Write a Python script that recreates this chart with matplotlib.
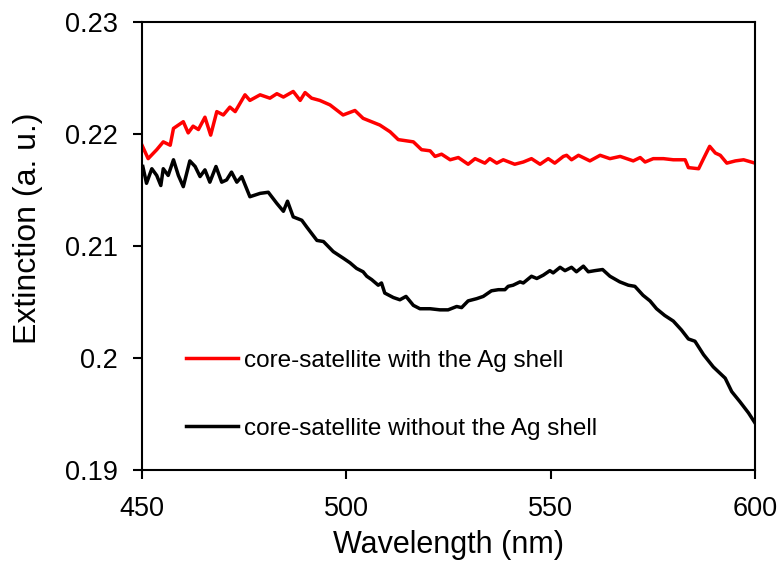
import matplotlib
matplotlib.use('Agg')
import matplotlib.pyplot as plt
from matplotlib.ticker import FuncFormatter

plt.rcParams['font.family'] = ['Liberation Sans', 'DejaVu Sans']

# extinction spectra
wl_red = [450.0, 451.5, 453.6, 455.2, 456.9, 457.7, 460.1, 461.3, 462.5, 463.8,
          465.4, 466.8, 468.3, 469.9, 471.5, 472.8, 475.2, 476.4, 478.9, 481.3,
          483.0, 484.6, 487.0, 488.7, 489.9, 491.5, 493.5, 496.0, 499.2, 502.1,
          504.1, 508.2, 510.7, 512.7, 516.4, 518.4, 520.5, 521.7, 523.3, 525.4,
          527.4, 529.8, 531.5, 533.9, 535.1, 536.8, 538.4, 541.2, 543.3, 545.3,
          547.4, 549.4, 551.0, 553.1, 553.9, 555.1, 556.8, 559.6, 562.1, 564.5,
          567.0, 570.2, 571.9, 573.1, 575.1, 577.6, 580.0, 582.9, 583.7, 586.2,
          587.4, 588.9, 590.3, 591.5, 593.1, 595.2, 597.2, 600.0]
ext_red = [0.2190, 0.2178, 0.2186, 0.2193, 0.2190, 0.2205, 0.2211, 0.2201, 0.2207, 0.2204,
           0.2215, 0.2199, 0.2220, 0.2217, 0.2224, 0.2220, 0.2235, 0.2230, 0.2235, 0.2232,
           0.2236, 0.2233, 0.2238, 0.2230, 0.2237, 0.2232, 0.2230, 0.2226, 0.2217, 0.2221,
           0.2214, 0.2208, 0.2202, 0.2195, 0.2193, 0.2186, 0.2185, 0.2180, 0.2182, 0.2177,
           0.2179, 0.2173, 0.2178, 0.2174, 0.2178, 0.2174, 0.2177, 0.2173, 0.2175, 0.2178,
           0.2173, 0.2178, 0.2174, 0.2180, 0.2181, 0.2177, 0.2181, 0.2176, 0.2181, 0.2178,
           0.2180, 0.2176, 0.2179, 0.2175, 0.2178, 0.2178, 0.2177, 0.2177, 0.2170, 0.2169,
           0.2178, 0.2189, 0.2183, 0.2181, 0.2174, 0.2176, 0.2177, 0.2174]

wl_black = [450.2, 451.1, 452.4, 453.6, 454.6, 455.2, 456.4, 457.7, 458.9, 460.1,
            461.7, 463.0, 464.2, 465.4, 466.6, 468.1, 469.5, 470.7, 471.9, 473.2,
            474.4, 476.4, 478.9, 480.9, 483.0, 484.6, 485.6, 487.0, 489.1, 490.3,
            492.8, 494.4, 496.8, 499.3, 500.9, 502.5, 504.1, 505.0, 506.2, 507.8,
            508.6, 509.4, 511.5, 513.1, 514.6, 516.4, 518.0, 520.5, 522.9, 524.9,
            527.0, 528.2, 529.8, 531.9, 533.5, 535.5, 537.2, 538.8, 539.6, 540.8,
            542.5, 543.3, 545.3, 546.6, 548.2, 549.8, 550.6, 552.3, 553.5, 555.1,
            556.3, 558.0, 559.2, 560.8, 562.7, 564.5, 566.9, 569.0, 570.6, 572.6,
            574.3, 575.9, 577.9, 580.0, 582.0, 583.7, 585.3, 587.4, 589.8, 592.7,
            594.3, 596.3, 598.4, 600.0]
ext_black = [0.2171, 0.2156, 0.2169, 0.2163, 0.2154, 0.2169, 0.2163, 0.2177, 0.2163, 0.2153,
             0.2176, 0.2171, 0.2162, 0.2168, 0.2157, 0.2171, 0.2157, 0.2159, 0.2166, 0.2157,
             0.2162, 0.2144, 0.2147, 0.2148, 0.2138, 0.2131, 0.2140, 0.2126, 0.2123, 0.2117,
             0.2105, 0.2104, 0.2095, 0.2089, 0.2085, 0.2080, 0.2077, 0.2073, 0.2070, 0.2065,
             0.2067, 0.2058, 0.2054, 0.2052, 0.2055, 0.2047, 0.2044, 0.2044, 0.2043, 0.2043,
             0.2046, 0.2045, 0.2051, 0.2053, 0.2055, 0.2060, 0.2061, 0.2061, 0.2064, 0.2065,
             0.2068, 0.2067, 0.2073, 0.2071, 0.2074, 0.2078, 0.2076, 0.2081, 0.2078, 0.2081,
             0.2077, 0.2082, 0.2077, 0.2078, 0.2079, 0.2073, 0.2068, 0.2065, 0.2064, 0.2056,
             0.2051, 0.2044, 0.2038, 0.2033, 0.2025, 0.2017, 0.2015, 0.2003, 0.1992, 0.1982,
             0.1970, 0.1961, 0.1951, 0.1942]

labels = ['core-satellite with the Ag shell', 'core-satellite without the Ag shell']
xticks = [450, 500, 550, 600]
yticks = [0.19, 0.20, 0.21, 0.22, 0.23]

fig = plt.figure(figsize=(7.82, 5.66), dpi=100)
ax = fig.add_axes([0.1816, 0.1696, 0.7839, 0.7915])

ax.plot(wl_red, ext_red, color='#ff0000', lw=2.5, label=labels[0])
ax.plot(wl_black, ext_black, color='black', lw=2.5, label=labels[1])

ax.set_xlim(450, 600)
ax.set_ylim(0.19, 0.23)
ax.set_xticks(xticks)
ax.set_yticks(yticks)
ax.yaxis.set_major_formatter(FuncFormatter(lambda v, p: '%g' % round(v, 2)))

for sp in ax.spines.values():
    sp.set_linewidth(1.5)
ax.tick_params(direction='out', length=6.5, width=1.5, labelsize=19.5,
               top=False, right=False)
ax.tick_params(axis='x', pad=12)
ax.tick_params(axis='y', pad=11)

ax.set_xlabel('Wavelength (nm)', fontsize=22)
ax.set_ylabel('Extinction (a. u.)', fontsize=23)
ax.xaxis.set_label_coords(0.5, -0.135)
ax.yaxis.set_label_coords(-0.162, 0.54)

ax.legend(loc='center left', bbox_to_anchor=(0.0718, 0.168), frameon=False,
          fontsize=17.5, handlelength=2.15, handletextpad=0.25, labelspacing=1.9,
          borderpad=0, borderaxespad=0)

fig.savefig('out.png', dpi=100)
